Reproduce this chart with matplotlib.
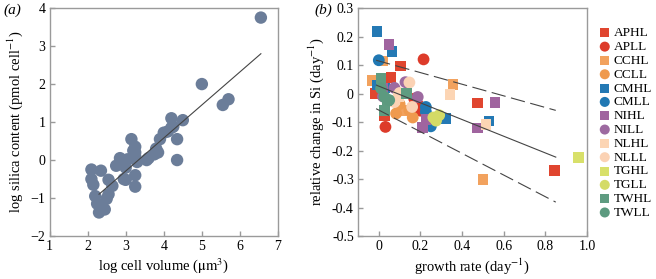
import matplotlib
matplotlib.use('Agg')
import matplotlib.pyplot as plt
import numpy as np

plt.rcParams['font.family'] = ['Liberation Serif', 'DejaVu Serif']
plt.rcParams['mathtext.fontset'] = 'stix'

# panel a: log cell volume vs log silica content
vol = [6.55, 5.0, 5.55, 5.7, 4.5, 4.2, 4.2, 4.25, 4.0, 4.1, 3.9, 4.35, 4.35,
       3.8, 3.75, 3.85, 3.6, 3.55, 3.3, 3.25, 3.25, 3.25, 3.15, 3.2, 3.25, 3.25,
       3.05, 3.0, 2.95, 3.0, 2.85, 2.75, 2.65, 2.55, 2.55, 2.5, 2.35, 2.3, 2.45,
       2.25, 2.2, 2.1, 2.15, 2.1, 2.35]
sil = [3.75, 2.0, 1.45, 1.6, 1.05, 1.1, 0.85, 0.88, 0.72, 0.75, 0.55, 0.55, 0.0,
       0.3, 0.15, 0.2, 0.05, 0.0, -0.05, 0.1, 0.2, 0.35, 0.55, 0.25, -0.4, -0.7,
       0.02, -0.2, -0.5, -0.52, 0.05, -0.15, -0.68, -0.52, -0.9, -1.02, -1.25, -1.38, -1.3,
       -1.15, -0.95, -0.5, -0.65, -0.25, -0.28]
fit_a = (0.87, -2.9)      # slope, intercept
fit_a_x = (2.3, 6.55)

# panel b: growth rate vs relative change in Si, per culture
groups = ['APHL', 'APLL', 'CCHL', 'CCLL', 'CMHL', 'CMLL', 'NIHL', 'NILL',
          'NLHL', 'NLLL', 'TGHL', 'TGLL', 'TWHL', 'TWLL']
colors = ['#E0452F', '#DD3B2A', '#F2A25E', '#EF9A4E', '#2479B4', '#2078B3',
          '#A0649F', '#9D6AA0', '#FCD5B4', '#FBD2B4', '#D8E06A', '#D4DB66',
          '#5F9C81', '#5C9A7F']
growth = {
    'APHL': [-0.018, 0.059, 0.104, 0.027, 0.474, 0.845, 0.09, 0.128],
    'APLL': [0.032, 0.215, 0.18, 0.17, 0.19, 0.2],
    'CCHL': [-0.033, 0.019, 0.357, 0.5, 0.12],
    'CCLL': [0.083, 0.163, 0.1, 0.147],
    'CMHL': [-0.008, 0.064, 0.322, 0.53, -0.005, 0.03],
    'CMLL': [0.0, 0.226, 0.226, 0.25],
    'NIHL': [0.048, 0.558, 0.474, 0.21, 0.226, 0.02],
    'NILL': [0.128, 0.187, 0.02, 0.075],
    'NLHL': [0.343, 0.514, 0.075, 0.095, 0.06],
    'NLLL': [0.147, 0.1, 0.16, 0.075],
    'TGHL': [0.96],
    'TGLL': [0.262, 0.29, 0.275],
    'TWHL': [0.011, 0.027, 0.134, 0.04],
    'TWLL': [0.011, 0.027, 0.05],
}
si_change = {
    'APHL': [0.0, 0.056, 0.097, -0.076, -0.033, -0.27, -0.023, -0.059],
    'APLL': [-0.117, 0.12, -0.035, -0.018, -0.04, -0.06],
    'CCHL': [0.045, 0.114, 0.032, -0.301, -0.06],
    'CCLL': [-0.07, -0.084, -0.037, -0.059],
    'CMHL': [0.217, 0.147, -0.088, -0.096, 0.03, 0.02],
    'CMLL': [0.117, -0.047, -0.064, -0.115],
    'NIHL': [0.172, -0.032, -0.121, -0.12, -0.091, 0.018],
    'NILL': [0.04, -0.012, -0.01, 0.02],
    'NLHL': [-0.004, -0.108, -0.023, -0.01, -0.03],
    'NLLL': [0.039, 0.002, -0.047, -0.03],
    'TGHL': [-0.225],
    'TGLL': [-0.084, -0.076, -0.095],
    'TWHL': [0.053, -0.059, 0.0, -0.025],
    'TWLL': [0.018, -0.012, -0.023],
}
# regression line and confidence bounds: (x0, y0, x1, y1)
fit_b = (-0.01, 0.029, 0.85, -0.223)
upper_b = (-0.013, 0.117, 0.85, -0.059)
lower_b = (-0.013, -0.053, 0.85, -0.381)

fig = plt.figure(figsize=(6.56, 2.79), dpi=100)
spine_c = '#9a9a9a'

def style(ax):
    for s in ax.spines.values():
        s.set_color(spine_c)
        s.set_linewidth(1.0)
    ax.tick_params(direction='in', length=3.5, color=spine_c, width=1.0,
                   labelsize=10, pad=3)

#plot a
ax1 = fig.add_axes([0.0755, 0.154, 0.3483, 0.817])
ax1.scatter(vol, sil, s=80, color='#6B7D99', edgecolors='none', zorder=2)
xf = np.array(fit_a_x)
ax1.plot(xf, fit_a[0] * xf + fit_a[1], color='#444444', lw=0.8, zorder=3)
ax1.set_xlim(1, 7)
ax1.set_ylim(-2, 4)
ax1.set_xticks(range(1, 8))
ax1.set_yticks(range(-2, 5))
ax1.set_yticklabels(['\u22122', '\u22121', '0', '1', '2', '3', '4'])
ax1.set_xlabel(r'log cell volume ($\mathrm{\mu m^3}$)', fontsize=10.5, labelpad=2)
ax1.set_ylabel(r'log silica content (pmol cell$^{-1}$)', fontsize=10.5, labelpad=4)
style(ax1)

#plot b
ax2 = fig.add_axes([0.5457, 0.154, 0.3491, 0.817])
for g, c in zip(groups, colors):
    mk = 's' if g.endswith('HL') else 'o'
    ax2.scatter(growth[g], si_change[g], s=58 if mk == 's' else 72, marker=mk,
                color=c, edgecolors='none', label=g, zorder=2)
ax2.plot(fit_b[0::2], fit_b[1::2], color='#444444', lw=0.8, zorder=3)
for b in (upper_b, lower_b):
    ax2.plot(b[0::2], b[1::2], color='#444444', lw=0.8, dashes=(13, 5), zorder=3)
ax2.set_xlim(-0.1, 1.0)
ax2.set_ylim(-0.5, 0.3)
ax2.set_xticks([0, 0.2, 0.4, 0.6, 0.8, 1.0])
ax2.set_xticklabels(['0', '0.2', '0.4', '0.6', '0.8', '1.0'])
ax2.set_yticks([0.3, 0.2, 0.1, 0, -0.1, -0.2, -0.3, -0.4, -0.5])
ax2.set_yticklabels(['0.3', '0.2', '0.1', '0', '-0.1', '-0.2', '-0.3', '-0.4', '-0.5'])
ax2.set_xlabel(r'growth rate (day$^{-1}$)', fontsize=10.5, labelpad=2)
ax2.set_ylabel(r'relative change in Si (day$^{-1}$)', fontsize=10.5, labelpad=4)
style(ax2)
ax2.legend(loc='upper left', bbox_to_anchor=(1.02, 0.94), frameon=False,
           fontsize=9.5, handletextpad=0.1, labelspacing=0.12, borderaxespad=0,
           handlelength=1.2, markerscale=0.85)

fig.text(0.005, 0.965, '(a)', fontsize=11, style='italic', va='center')
fig.text(0.48, 0.965, '(b)', fontsize=11, style='italic', va='center')

plt.savefig('out.png', dpi=100)
